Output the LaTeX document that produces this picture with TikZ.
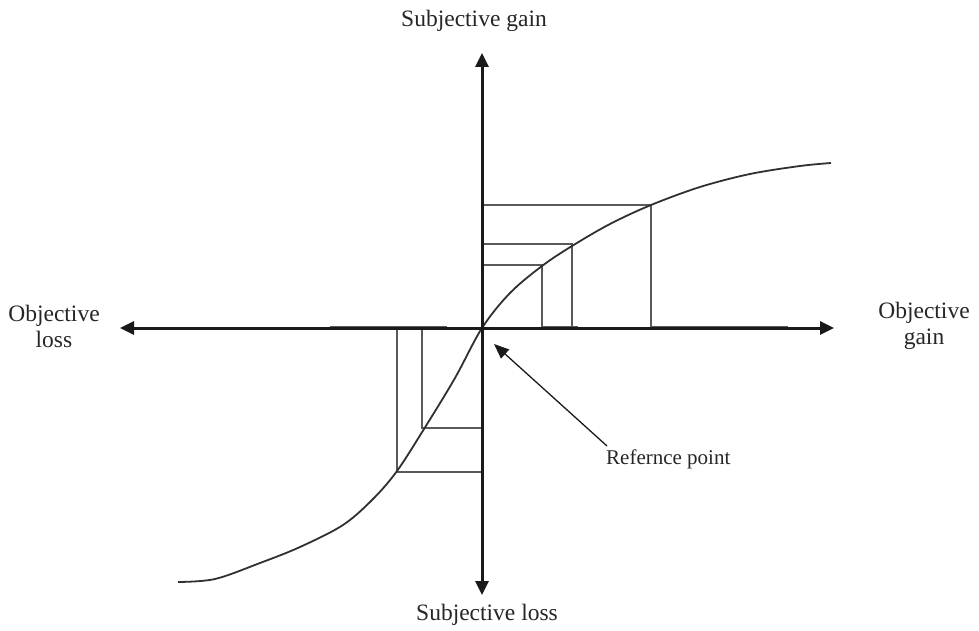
\documentclass[tikz,border=0pt]{standalone}
\usepackage{fontspec}
\setmainfont{Liberation Serif}
\usetikzlibrary{arrows.meta}
\definecolor{axisc}{HTML}{1A1A1A}
\definecolor{curvec}{HTML}{303030}
\definecolor{boxc}{HTML}{5A5A5A}
\tikzset{
  axisline/.style={draw=axisc, line width=3pt, -{Triangle[length=14pt,width=13pt]}},
  curveline/.style={draw=curvec, line width=1.8pt},
  boxline/.style={draw=boxc, line width=1.3pt},
  ptrline/.style={draw=axisc, line width=1.3pt, -{Triangle[length=15pt,width=12pt]}},
  lbl/.style={font=\fontsize{23.5}{26}\selectfont, align=center, inner sep=0pt, text=black!85}
}
\begin{document}
\begin{tikzpicture}[x=1pt,y=-1pt]
\useasboundingbox (0,0) rectangle (979,631);
% coordinates
\coordinate (O) at (482,328);
\coordinate (L) at (120,328);
\coordinate (R) at (834,328);
\coordinate (T) at (482,53);
\coordinate (B) at (482,595);
% guide lines (drawn first)
\draw[boxline] (482,205) -- (651,205) -- (651,327);
\draw[boxline] (482,244) -- (572,244) -- (572,326.5);
\draw[boxline] (482,265) -- (542,265) -- (542,326.5) -- (578,326.5);
\draw[boxline] (651,326.5) -- (788,326.5);
\draw[boxline] (330,327) -- (447,327);
\draw[boxline] (397,329) -- (397,472) -- (482,472);
\draw[boxline] (422,329) -- (422,428) -- (482,428);
% curve
\draw[curveline] plot[smooth, tension=0.55] coordinates {
 (178,582) (215,579) (260,563) (300,547) (343,525) (373,499) (397,471)
 (424,429) (455,378) (482,328) (510,293) (542,266) (572,246)
 (610,224) (651,205) (700,187) (750,174) (800,166) (831,163)};
% axes
\draw[axisline] (O) -- (R);
\draw[axisline] (O) -- (L);
\draw[axisline] (O) -- (T);
\draw[axisline] (O) -- (B);
% labels
\node[lbl] (sg) at (474,21) {Subjective gain};
\node[lbl] (sl) at (487,615) {Subjective loss};
\node[lbl] (ol) at (54,326) {Objective\\loss};
\node[lbl] (og) at (924,326) {Objective\\gain};
\node[lbl, font=\fontsize{21}{24}\selectfont, anchor=north west] (rp) at (606,450) {Refernce point};
\coordinate (tip) at (494,344);
\draw[ptrline] (607,446) -- (tip);
\end{tikzpicture}
\end{document}
